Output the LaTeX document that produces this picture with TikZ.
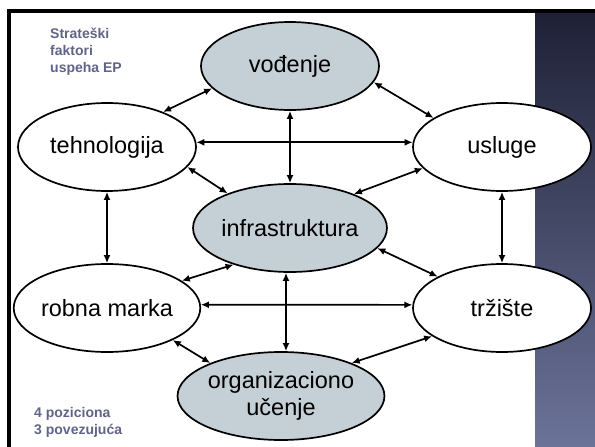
\documentclass[tikz,border=0pt]{standalone}
\usepackage{fontspec}
\setmainfont{Liberation Sans}
\usetikzlibrary{shapes.geometric,arrows.meta}
\definecolor{ellgray}{RGB}{197,207,214}
\definecolor{labelblue}{RGB}{96,101,135}
\definecolor{paneltop}{RGB}{30,33,54}
\definecolor{panelbot}{RGB}{108,115,153}
\tikzset{
  ell/.style={ellipse,draw=black,line width=1.7pt,minimum width=178pt,minimum height=88pt,inner sep=0pt,
    font=\fontsize{23.5}{27}\selectfont,align=center},
  ellg/.style={ell,fill=ellgray},
  ellw/.style={ell,fill=white},
  conn/.style={line width=1.7pt,{Latex[length=8pt,width=7pt]}-{Latex[length=8pt,width=7pt]}},
  sidelabel/.style={font=\fontsize{14}{17}\selectfont\bfseries,text=labelblue,align=left,inner sep=0pt}
}
\begin{document}
\begin{tikzpicture}[x=1pt,y=-1pt]
\useasboundingbox (0,0) rectangle (595,447);
\fill[white] (0,0) rectangle (595,447);
% right panel
\shade[top color=paneltop,bottom color=panelbot] (535,13) rectangle (595,447);
% frame
\fill[black] (7,9) rectangle (595,13);
\fill[black] (7,9) rectangle (11,447);
% labels
\node[sidelabel,anchor=base west] (title) at (50,72) {Strateški\\faktori\\uspeha EP};
\node[sidelabel,anchor=base west] (count) at (34,434) {4 poziciona\\3 povezujuća};
% ellipses
\node[ellg] (V) at (290,66) {vođenje};
\node[ellw] (T) at (107,147) {tehnologija};
\node[ellw] (U) at (502,147) {usluge};
\node[ellg] (I) at (290,228) {infrastruktura};
\node[ellw] (R) at (107,308) {robna marka};
\node[ellw] (M) at (502,308) {tržište};
\node[ellg] (O) at (281,396) {organizaciono\\učenje};
% connectors
\draw[conn] (V.196) -- (T.32);
\draw[conn] (V.349) -- (U.157);
\draw[conn] (V.south) -- (I.north);
\draw[conn] (T.3) -- (U.177);
\draw[conn] (T.346) -- (I.151);
\draw[conn] (U.195) -- (I.28);
\draw[conn] (T.south) -- (R.north);
\draw[conn] (U.south) -- (M.north);
\draw[conn] (R.20) -- (I.213);
\draw[conn] (R.2) -- (M.178);
\draw[conn] (I.347) -- (M.154);
\draw[conn] ([xshift=-4pt]I.south) -- ([xshift=5pt]O.north);
\draw[conn] (R.334) -- (O.155);
\draw[conn] (M.202) -- (O.25);
\end{tikzpicture}
\end{document}
